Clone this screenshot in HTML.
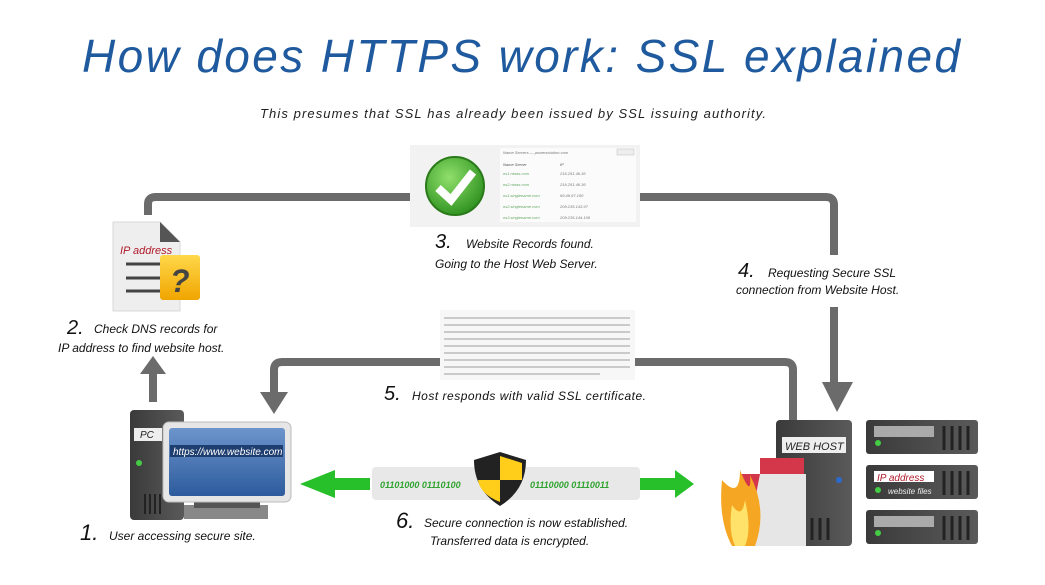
<!DOCTYPE html>
<html><head><meta charset="utf-8"><style>
body{margin:0;width:1045px;height:580px;background:#fff;overflow:hidden;font-family:"Liberation Sans",sans-serif}
svg text{font-family:"Liberation Sans",sans-serif;font-style:italic}
</style></head><body>
<svg width="1045" height="580" viewBox="0 0 1045 580">
<defs>
<linearGradient id="scr" x1="0" y1="0" x2="0" y2="1"><stop offset="0" stop-color="#6d95cc"/><stop offset="1" stop-color="#2d5b9d"/></linearGradient>
<linearGradient id="tw" x1="0" y1="0" x2="1" y2="0"><stop offset="0" stop-color="#3a3a3a"/><stop offset="1" stop-color="#5a5a5a"/></linearGradient>
<radialGradient id="chk" cx="0.4" cy="0.35" r="0.7"><stop offset="0" stop-color="#8fe06a"/><stop offset="1" stop-color="#2c8f1e"/></radialGradient>
<linearGradient id="yel" x1="0" y1="0" x2="0" y2="1"><stop offset="0" stop-color="#ffd84a"/><stop offset="1" stop-color="#f0a500"/></linearGradient>
</defs>
<text x="521" y="72" font-size="46" fill="#1f5a9e" text-anchor="middle" textLength="878">How does HTTPS work: SSL explained</text>
<text x="513" y="118" font-size="13" fill="#222" text-anchor="middle" textLength="506">This presumes that SSL has already been issued by SSL issuing authority.</text>

<!-- connectors -->
<g fill="none" stroke="#6b6b6b" stroke-width="8">
<path d="M148 215 V204 Q148 197 156 197 H412"/>
<path d="M640 197 H826 Q834 197 834 205 V255"/>
<path d="M834 307 V385"/>
<path d="M622 362 H785 Q793 362 793 370 V420"/>
<path d="M440 362 H282 Q274 362 274 370 V395"/>
<path d="M153 402 V372"/>
</g>
<polygon points="822,382 853,382 837,412" fill="#6b6b6b"/>
<polygon points="260,392 288,392 274,414" fill="#6b6b6b"/>
<polygon points="140,374 166,374 153,356" fill="#6b6b6b"/>

<!-- records screenshot -->
<rect x="410" y="145" width="230" height="82" fill="#f2f2f2"/>
<rect x="500" y="148" width="136" height="74" fill="#fbfbfb"/>
<circle cx="455" cy="186" r="29" fill="url(#chk)" stroke="#2a7a1a" stroke-width="2"/>
<path d="M438 188 L451 200 L473 172" fill="none" stroke="#fff" stroke-width="8"/>
<g font-size="4" fill="#6a6">
<text x="503" y="154" fill="#777">Name Servers — powersolution.com</text>
<text x="503" y="166" fill="#555">Name Server</text><text x="560" y="166" fill="#555">IP</text>
<text x="503" y="175">ns1.ntnas.com</text><text x="560" y="175" fill="#777">216.251.46.36</text>
<text x="503" y="186">ns2.ntnas.com</text><text x="560" y="186" fill="#777">216.251.46.36</text>
<text x="503" y="197">ns1.singlename.com</text><text x="560" y="197" fill="#777">69.49.97.150</text>
<text x="503" y="208">ns2.singlename.com</text><text x="560" y="208" fill="#777">209.235.143.97</text>
<text x="503" y="219">ns3.singlename.com</text><text x="560" y="219" fill="#777">209.235.144.106</text>
</g>
<rect x="617" y="149" width="17" height="6" fill="#eee" stroke="#bbb" stroke-width="0.5"/>
<text x="435" y="248" font-size="20" fill="#111" font-style="italic">3.</text>
<text x="466" y="248" font-size="12" fill="#111">Website Records found.</text>
<text x="435" y="268" font-size="12" fill="#111">Going to the  Host Web Server.</text>

<!-- step 4 -->
<text x="738" y="277" font-size="20" fill="#111">4.</text>
<text x="768" y="277" font-size="12" fill="#111">Requesting Secure SSL</text>
<text x="736" y="294" font-size="12" fill="#111">connection from Website Host.</text>

<!-- document -->
<path d="M113 222 H160 L180 242 V311 H113 Z" fill="#eeeeee" stroke="#d8d8d8"/>
<path d="M160 222 V242 H180 Z" fill="#555"/>
<text x="120" y="254" font-size="11" fill="#b01a2a">IP address</text>
<g stroke="#444" stroke-width="3"><line x1="126" y1="264" x2="160" y2="264"/><line x1="126" y1="278" x2="160" y2="278"/><line x1="126" y1="291" x2="160" y2="291"/></g>
<rect x="160" y="255" width="40" height="45" rx="3" fill="url(#yel)"/>
<text x="170" y="292" font-size="32" font-weight="bold" fill="#444" font-style="normal">?</text>
<text x="67" y="334" font-size="20" fill="#111">2.</text>
<text x="94" y="333" font-size="12" fill="#111">Check DNS records for</text>
<text x="58" y="352" font-size="12" fill="#111">IP address to find website host.</text>

<!-- certificate -->
<rect x="440" y="310" width="195" height="70" fill="#f7f7f7"/>
<g stroke="#bbb" stroke-width="1.5">
<line x1="444" y1="318" x2="630" y2="318"/><line x1="444" y1="325" x2="630" y2="325"/><line x1="444" y1="332" x2="630" y2="332"/><line x1="444" y1="339" x2="630" y2="339"/><line x1="444" y1="346" x2="630" y2="346"/><line x1="444" y1="353" x2="630" y2="353"/><line x1="444" y1="360" x2="630" y2="360"/><line x1="444" y1="367" x2="630" y2="367"/><line x1="444" y1="374" x2="600" y2="374"/>
</g>
<text x="384" y="400" font-size="20" fill="#111">5.</text>
<text x="412" y="400" font-size="12" fill="#111" textLength="234">Host responds with valid SSL certificate.</text>

<!-- PC -->
<rect x="130" y="410" width="54" height="110" rx="4" fill="url(#tw)"/>
<rect x="134" y="428" width="28" height="13" fill="#eee"/>
<text x="140" y="438" font-size="10" fill="#222">PC</text>
<circle cx="139" cy="463" r="3" fill="#4c4"/>
<g stroke="#222" stroke-width="2"><line x1="145" y1="494" x2="145" y2="514"/><line x1="150" y1="494" x2="150" y2="514"/><line x1="155" y1="494" x2="155" y2="514"/><line x1="160" y1="494" x2="160" y2="514"/></g>
<rect x="184" y="505" width="84" height="14" fill="#888"/>
<rect x="194" y="500" width="66" height="8" fill="#555"/>
<rect x="163" y="422" width="128" height="80" rx="6" fill="#e6e6e6" stroke="#bbb"/>
<rect x="169" y="428" width="116" height="68" rx="3" fill="url(#scr)"/>
<rect x="170" y="445" width="113" height="12" fill="#1f3e70"/>
<text x="173" y="455" font-size="10" fill="#fff">https://www.website.com</text>
<text x="80" y="540" font-size="22" fill="#111">1.</text>
<text x="109" y="540" font-size="12" fill="#111">User accessing secure site.</text>

<!-- secure strip -->
<rect x="372" y="467" width="268" height="33" rx="4" fill="#e8e8e8"/>
<text x="380" y="488" font-size="9" fill="#2fa32f" font-weight="bold">01101000 01110100</text>
<text x="530" y="488" font-size="9" fill="#2fa32f" font-weight="bold">01110000 01110011</text>
<path d="M500 452 L526 460 Q526 490 500 506 Q474 490 474 460 Z" fill="#222"/>
<path d="M500 456 L522 463 V480 H500 Z" fill="#ffce1a"/><path d="M500 480 H478 Q480 494 500 502 Z" fill="#ffce1a"/>
<polygon points="370,478 335,478 335,470 300,484 335,498 335,490 370,490" fill="#27c02a"/>
<polygon points="640,478 675,478 675,470 694,484 675,498 675,490 640,490" fill="#27c02a"/>
<text x="396" y="528" font-size="22" fill="#111">6.</text>
<text x="424" y="527" font-size="12" fill="#111">Secure connection is now established.</text>
<text x="430" y="545" font-size="12" fill="#111">Transferred data is encrypted.</text>

<!-- servers -->
<rect x="776" y="420" width="76" height="126" rx="4" fill="url(#tw)"/>
<rect x="782" y="437" width="64" height="16" fill="#eee"/>
<text x="785" y="450" font-size="11" fill="#222">WEB HOST</text>
<circle cx="839" cy="480" r="3" fill="#2b6bd0"/>
<g stroke="#222" stroke-width="3"><line x1="812" y1="518" x2="812" y2="540"/><line x1="820" y1="518" x2="820" y2="540"/><line x1="828" y1="518" x2="828" y2="540"/></g>
<g>
<rect x="866" y="420" width="112" height="34" rx="3" fill="url(#tw)"/>
<rect x="874" y="426" width="60" height="11" fill="#aaa"/><circle cx="878" cy="443" r="3" fill="#4c4"/>
<rect x="866" y="465" width="112" height="34" rx="3" fill="url(#tw)"/>
<rect x="874" y="471" width="60" height="11" fill="#fff"/><text x="877" y="481" font-size="10" fill="#b01a2a">IP address</text>
<circle cx="878" cy="490" r="3" fill="#4c4"/><text x="888" y="494" font-size="8" fill="#eee">website files</text>
<rect x="866" y="510" width="112" height="34" rx="3" fill="url(#tw)"/>
<rect x="874" y="516" width="60" height="11" fill="#aaa"/><circle cx="878" cy="533" r="3" fill="#4c4"/>
<g stroke="#222" stroke-width="3"><line x1="944" y1="426" x2="944" y2="450"/><line x1="952" y1="426" x2="952" y2="450"/><line x1="960" y1="426" x2="960" y2="450"/><line x1="968" y1="426" x2="968" y2="450"/>
<line x1="944" y1="471" x2="944" y2="495"/><line x1="952" y1="471" x2="952" y2="495"/><line x1="960" y1="471" x2="960" y2="495"/><line x1="968" y1="471" x2="968" y2="495"/>
<line x1="944" y1="516" x2="944" y2="540"/><line x1="952" y1="516" x2="952" y2="540"/><line x1="960" y1="516" x2="960" y2="540"/><line x1="968" y1="516" x2="968" y2="540"/></g>
</g>
<rect x="760" y="458" width="44" height="16" fill="#d4364a"/>
<rect x="740" y="474" width="64" height="70" fill="#d4364a"/>
<path d="M760 474 H806 V546 H746 Z" fill="#e6e6e6"/>
<path d="M722 480 Q740 500 740 470 Q752 500 750 475 Q768 510 755 546 H732 Q718 520 722 480 Z" fill="#f5a623"/>
<path d="M732 505 Q742 520 745 500 Q752 530 745 546 H735 Q728 530 732 505 Z" fill="#ffe26a"/>
</svg>
</body></html>
